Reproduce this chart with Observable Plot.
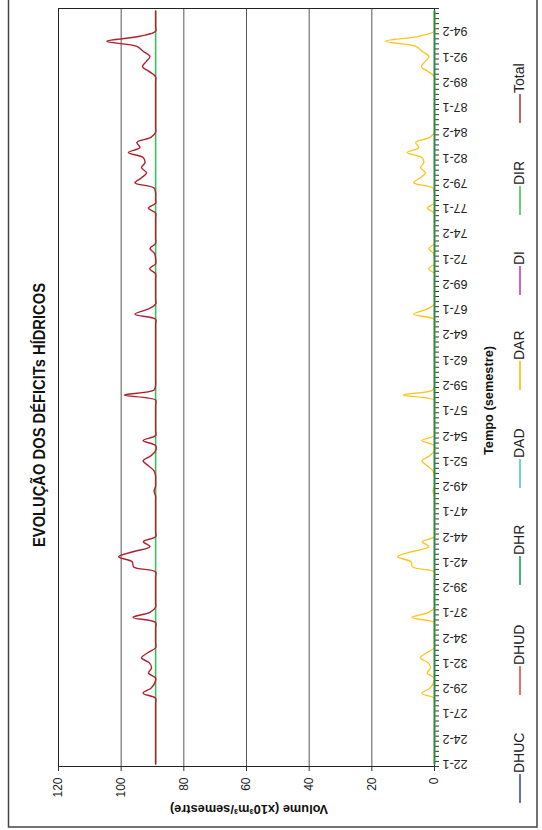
<!DOCTYPE html>
<html><head><meta charset="utf-8">
<script src="https://cdn.jsdelivr.net/npm/d3@7"></script>
<script src="https://cdn.jsdelivr.net/npm/@observablehq/plot@0.6"></script>
<style>
html,body{margin:0;padding:0;background:#fff;width:542px;height:830px;overflow:hidden;}
#wrap{position:absolute;left:0;top:0;width:830px;height:542px;transform-origin:0 0;transform:translateY(830px) rotate(-90deg);}
</style></head><body><div id="wrap"></div>
<script>
// ---- data ----
const years = d3.range(22, 97);
const semesters = years.flatMap(y => [y + "-1", y + "-2"]);
const yTicks = [0, 20, 40, 60, 80, 100, 120];
const titleText = "EVOLUÇÃO DOS DÉFICITs HÍDRICOS";
const xTitle = "Tempo (semestre)";
const yTitle = "Volume (x10³m³/semestre)";
const seriesNames = ["DHUC", "DHUD", "DHR", "DAD", "DAR", "DI", "DIR", "Total"];
const seriesColors = ["#6a70b8", "#f06a6a", "#4caf78", "#70d0d0", "#ffc830", "#d064c0", "#6ccc7c", "#c4626c"];

const dar = [
 0,0,0,0,0,0,0,0,0,0,
 0,0,0,0,4,1.5,0.3,0,2.3,1.3,
 2,4.5,2.5,0,0,0,0,0,0,7.2,
 1.8,0,0,0,0,0,0,0,0,7,
 7.5,11.8,7.2,1.8,3.9,0,0,0,0,0,
 0,0,0,0,0.5,0,0,0,0.5,2.3,
 4,1.5,0,0,4,0,0,0,0,0,
 0,0,0,10,0.5,0,0,0,0,0,
 0,0,0,0,0,0,0,0,0,6.6,
 2.5,0,0,0,0,0,0,0,1.9,0,
 0,0.3,1.8,0,0,0,0,0,0,0,
 2.3,0,0,0,0.5,6.6,4.5,2.9,4.5,3.4,
 4,8.7,5,6,1.5,0,0,0,0,0,
 0,0,0,0,0,0,0,2,4.2,3,
 1.8,3.9,6,15.6,5,0,0,0,0,0
];
const total = [
 89,89,89,89,89,89,89,89,89,89,
 89,89,89,89,93,90.5,89.3,89,91.3,90.3,
 91,93.5,91.5,89,89,89,89,89,89,96.2,
 90.8,89,89,89,89,89,89,89,89,96,
 96.5,100.8,96.2,90.8,92.9,89,89,89,89,89,
 89,89,89,89,89.5,89,89,89,89.5,91.3,
 93,90.5,89,89,93,89,89,89,89,89,
 89,89,89,99,89.5,89,89,89,89,89,
 89,89,89,89,89,89,89,89,89,95.6,
 91.5,89,89,89,89,89,89,89,90.9,89,
 89,89.3,90.8,89,89,89,89,89,89,89,
 91.3,89,89,89,89.5,95.6,93.5,91.9,93.5,92.4,
 93,97.7,94,95,90.5,89,89,89,89,89,
 89,89,89,89,89,89,89,91,93.2,92,
 90.8,92.9,95,104.6,94,89,89,89,89,89
];
const dir = [
 89,89,89,89,89,89,89,89,89,89, 89,89,89,89,89,89,89,89,89,89,
 89,89,89,89,89,89,89,89,89,89, 89,89,89,89,89,89,89,89,89,89,
 89,89,89,89,89,89,89,89,89,89, 89,89,89,89,89,89,89,89,89,89,
 89,89,89,89,89,89,89,89,89,89, 89,89,89,89,89,89,89,89,89,89,
 89,89,89,89,89,89,89,89,89,89, 89,89,89,89,89,89,89,89,89,89,
 89,89,89,89,89,89,89,89,89,89, 89,89,89,89,89,89,89,89,89,89,
 89,89,89,89,89,89,89,89,89,89, 89,89,89,89,89,89,89,89,89,89,
 89,89,89,89,89,89,89,89,89,89
];
const dhr = [
 0,0,0,0,0,0,0,0,0,0, 0,0,0,0,0,0,0,0,0,0,
 0,0,0,0,0,0,0,0,0,0, 0,0,0,0,0,0,0,0,0,0,
 0,0,0,0,0,0,0,0,0,0, 0,0,0,0,0,0,0,0,0,0,
 0,0,0,0,0,0,0,0,0,0, 0,0,0,0,0,0,0,0,0,0,
 0,0,0,0,0,0,0,0,0,0, 0,0,0,0,0,0,0,0,0,0,
 0,0,0,0,0,0,0,0,0,0, 0,0,0,0,0,0,0,0,0,0,
 0,0,0,0,0,0,0,0,0,0, 0,0,0,0,0,0,0,0,0,0,
 0,0,0,0,0,0,0,0,0,0
];

// ---- layout ----
const W = 830, H = 542;
const legendX = [27, 135, 245, 342, 440, 535, 615, 707];
const FONT = "'Liberation Sans', Arial, Helvetica, sans-serif";

const idx = d3.range(semesters.length);
const rows = s => idx.map(i => ({i, v: s[i]}));
const boundaries = d3.range(semesters.length + 1).map(i => i - 0.5);
const labelIdx = idx.filter(i => i % 5 === 0);

const chart = Plot.plot({
  width: W, height: H,
  marginLeft: 63, marginRight: 9, marginTop: 58, marginBottom: 108,
  style: {fontFamily: FONT, fontSize: "12px", color: "#222", background: "transparent", overflow: "visible"},
  x: {domain: [-0.5, semesters.length - 0.5], label: null},
  y: {domain: [0, 120], label: null},
  marks: [
    Plot.gridY(yTicks, {stroke: "#555", strokeOpacity: 1, strokeWidth: 1}),
    Plot.frame({stroke: "#222", strokeWidth: 1}),
    Plot.axisY(yTicks, {tickSize: 4, tickPadding: 7, fontSize: 12, label: null, stroke: "#333"}),
    Plot.axisX(boundaries, {tickSize: 5, tickFormat: () => "", label: null, stroke: "#333"}),
    Plot.axisX(labelIdx, {tickSize: 0, tickPadding: 8, tickRotate: -90, tickFormat: i => semesters[i], fontSize: 12.5, label: null}),
    Plot.line(rows(dar), {x: "i", y: "v", stroke: "#ffc21a", strokeWidth: 1.3, curve: "catmull-rom"}),
    Plot.line(rows(dhr), {x: "i", y: "v", stroke: "#2e8b45", strokeWidth: 2}),
    Plot.line(rows(dir), {x: "i", y: "v", stroke: "#3cbf60", strokeWidth: 1.6}),
    Plot.line(rows(total), {x: "i", y: "v", stroke: "#b0202e", strokeWidth: 1.4, curve: "catmull-rom"})
  ]
});

const svg = d3.select(chart);
svg.attr("font-family", FONT);
// outer border
svg.append("rect").attr("x", 3).attr("y", 8.5).attr("width", W + 10).attr("height", 528.5)
  .attr("fill", "none").attr("stroke", "#444").attr("stroke-width", 1.5);
// title
svg.append("text").attr("x", 415).attr("y", 39).attr("text-anchor", "middle").attr("dominant-baseline", "central")
  .attr("font-size", 16).attr("font-weight", "bold").attr("fill", "#111")
  .attr("textLength", 264).attr("lengthAdjust", "spacingAndGlyphs").text(titleText);
// x title
svg.append("text").attr("x", 429.5).attr("y", 489).attr("text-anchor", "middle").attr("dominant-baseline", "central")
  .attr("font-size", 12.5).attr("font-weight", "bold").attr("fill", "#111")
  .attr("textLength", 109).attr("lengthAdjust", "spacingAndGlyphs").text(xTitle);
// y title
svg.append("text").attr("transform", "translate(21,249) rotate(-90)").attr("text-anchor", "middle").attr("dominant-baseline", "central")
  .attr("font-size", 12).attr("font-weight", "bold").attr("fill", "#111")
  .attr("textLength", 158).attr("lengthAdjust", "spacingAndGlyphs").text(yTitle);
// legend
const lg = svg.append("g").attr("text-anchor", "start");
seriesNames.forEach((name, k) => {
  const x0 = legendX[k];
  lg.append("line").attr("x1", x0).attr("x2", x0 + 29).attr("y1", 520).attr("y2", 520)
    .attr("stroke", seriesColors[k]).attr("stroke-width", 2);
  lg.append("text").attr("x", x0 + 30).attr("y", 519).attr("text-anchor", "start").attr("dominant-baseline", "central")
    .attr("font-size", 14).attr("fill", "#222").text(name);
});

document.getElementById("wrap").appendChild(chart);
</script></body></html>
